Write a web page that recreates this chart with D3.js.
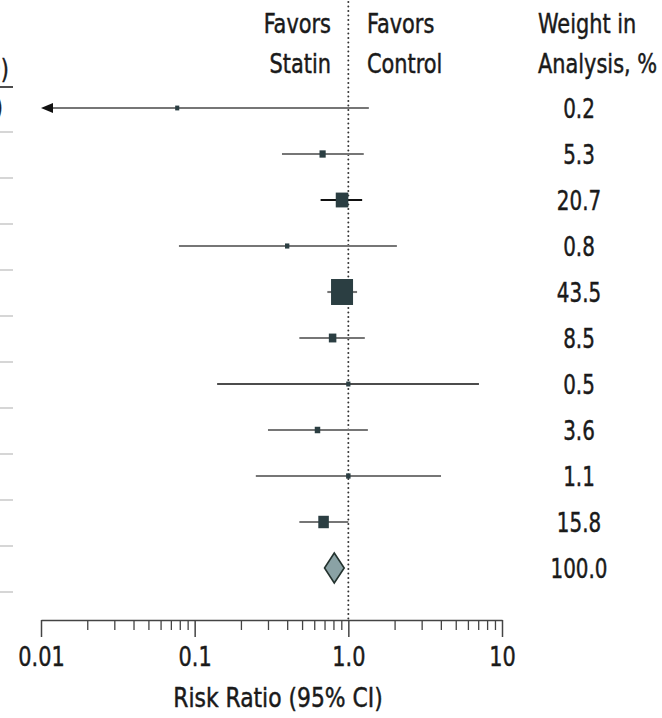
<!DOCTYPE html>
<html>
<head>
<meta charset="utf-8">
<script src="https://cdn.jsdelivr.net/npm/d3@7"></script>
<style>
  body { margin: 0; background: #fff; }
  svg { display: block; }
  text { font-family: 'Liberation Sans Narrow', 'DejaVu Sans Condensed', sans-serif; fill: #1a1a1a; stroke: #1a1a1a; stroke-width: 0.45px; }
</style>
</head>
<body>
<div id="chart"></div>
<script>
// study rows, top to bottom
var riskRatio = [0.077, 0.68, 0.91, 0.40, 0.91, 0.79, 1.0, 0.63, 1.0, 0.69];
var ciLower   = [0.004, 0.37, 0.66, 0.079, 0.73, 0.48, 0.14, 0.30, 0.25, 0.48];
var ciUpper   = [1.36, 1.26, 1.23, 2.07, 1.14, 1.28, 7.08, 1.34, 4.01, 1.0];
var weights   = [0.2, 5.3, 20.7, 0.8, 43.5, 8.5, 0.5, 3.6, 1.1, 15.8];

// pooled estimate (diamond)
var pooled = [0.81, 0.70, 0.94];
var pooledWeight = 100.0;

// axis
var tickValues = [0.01, 0.1, 1, 10];
var tickLabels = ["0.01", "0.1", "1.0", "10"];

const width = 662, height = 718;
const squeeze = 0.86;   // fake a condensed face

var svg = d3.select("#chart")
    .append("svg")
        .attr("width", width)
        .attr("height", height);

var rowIdx = d3.range(riskRatio.length + 1);

var xScale = d3.scaleLog()
    .domain([0.01, 10])
    .range([41, 502]);

var yScale = d3.scalePoint()
    .domain(rowIdx)
    .range([108, 568]);

var sizeScale = d3.scaleLinear()
    .domain([0, 43.5])
    .range([4, 22]);

var axisY = 620;

function label(x, y, anchor, txt, sx) {
    return svg.append("text")
        .attr("transform", "translate(" + x + "," + y + ") scale(" + (sx || squeeze) + ",1)")
        .attr("text-anchor", anchor)
        .style("font-size", "27px")
        .text(txt);
}

// left table remnants (cut off by the frame)
label(9, 78, "end", "100)");
svg.append("line")
    .attr("x1", 0).attr("x2", 13)
    .attr("y1", 87).attr("y2", 87)
    .style("stroke", "#111").style("stroke-width", 1.5);
label(3, 116, "end", "0 (0)");

svg.selectAll(".sep")
    .data(rowIdx)
    .enter().append("line")
    .attr("class", "sep")
    .attr("x1", 0).attr("x2", 13)
    .attr("y1", d => yScale(d) + 24)
    .attr("y2", d => yScale(d) + 24)
    .style("stroke", "#c8c8c8")
    .style("stroke-width", 1.5);

// null line
svg.append("line")
    .attr("x1", xScale(1)).attr("x2", xScale(1))
    .attr("y1", 2).attr("y2", axisY)
    .style("stroke", "#333")
    .style("stroke-width", 2)
    .style("stroke-linecap", "round")
    .style("stroke-dasharray", "0,4.5");

// header
label(331, 33, "end", "Favors");
label(331, 73, "end", "Statin");
label(367, 33, "start", "Favors");
label(367, 73, "start", "Control");
label(538, 33, "start", "Weight in");
label(538, 73, "start", "Analysis, %");

var studies = riskRatio.map(function(r, i) {
    return {i: i, rr: r, lo: ciLower[i], hi: ciUpper[i], w: weights[i]};
});
var darkRows = [2, 6];

// CI lines
svg.selectAll(".ci")
    .data(studies)
    .enter().append("line")
    .attr("class", "ci")
    .attr("x1", d => d.lo < 0.01 ? xScale(0.01) + 11 : xScale(d.lo))
    .attr("x2", d => xScale(d.hi))
    .attr("y1", d => yScale(d.i))
    .attr("y2", d => yScale(d.i))
    .style("stroke", d => darkRows.indexOf(d.i) >= 0 ? "#111" : "#767676")
    .style("stroke-width", d => d.i == 6 ? 1.4 : 2.1);

// arrow where the CI runs off the left of the scale
svg.selectAll(".arrowhead")
    .data(studies.filter(d => d.lo < 0.01))
    .enter().append("path")
    .attr("class", "arrowhead")
    .attr("d", d => "M" + (xScale(0.01) + 12) + "," + (yScale(d.i) - 5) + " L" + xScale(0.01) + "," + yScale(d.i) + " L" + (xScale(0.01) + 12) + "," + (yScale(d.i) + 5) + " Z")
    .style("fill", "#111");

// squares
svg.selectAll(".box")
    .data(studies)
    .enter().append("rect")
    .attr("class", "box")
    .attr("x", d => xScale(d.rr) - sizeScale(d.w) / 2)
    .attr("y", d => yScale(d.i) - sizeScale(d.w) * 1.18 / 2)
    .attr("width", d => sizeScale(d.w))
    .attr("height", d => sizeScale(d.w) * 1.18)
    .style("fill", "#2b3e42");

// pooled diamond
var py = yScale(riskRatio.length);
svg.append("path")
    .attr("d", "M" + xScale(pooled[1]) + "," + py +
               " L" + xScale(pooled[0]) + "," + (py - 15) +
               " L" + xScale(pooled[2]) + "," + py +
               " L" + xScale(pooled[0]) + "," + (py + 15) + " Z")
    .style("fill", "#8aa2a5")
    .style("stroke", "#24332f")
    .style("stroke-width", 1.6);

// weights
weights.concat([pooledWeight]).forEach(function(w, i) {
    label(579, yScale(i) + 10, "middle", w.toFixed(1), 0.82);
});

// x axis: minor ticks
var minorAxis = d3.axisBottom(xScale)
    .tickValues(xScale.ticks().filter(v => tickValues.indexOf(v) < 0))
    .tickSize(10)
    .tickFormat("");
svg.append("g")
    .attr("transform", `translate(0,${axisY})`)
    .call(minorAxis)
    .call(g => g.select(".domain").remove())
    .selectAll("line").style("stroke", "#444").style("stroke-width", 1.3);

// x axis: major ticks
var xAxis = d3.axisBottom(xScale)
    .tickValues(tickValues)
    .tickSize(17)
    .tickSizeOuter(0)
    .tickPadding(10)
    .tickFormat((d, i) => tickLabels[i]);
var ax = svg.append("g")
    .attr("transform", `translate(0,${axisY})`)
    .call(xAxis);
ax.select(".domain").style("stroke", "#444").style("stroke-width", 1.5);
ax.selectAll("line").style("stroke", "#444").style("stroke-width", 1.5);
ax.selectAll("text")
    .attr("transform", "scale(" + squeeze + ",1)")
    .style("font-family", "'Liberation Sans Narrow', 'DejaVu Sans Condensed', sans-serif")
    .style("font-size", "27px")
    .style("fill", "#1a1a1a")
    .style("stroke", "#1a1a1a")
    .style("stroke-width", "0.45px");

// axis title
label(278, 707, "middle", "Risk Ratio (95% CI)", 0.9);
</script>
</body>
</html>
